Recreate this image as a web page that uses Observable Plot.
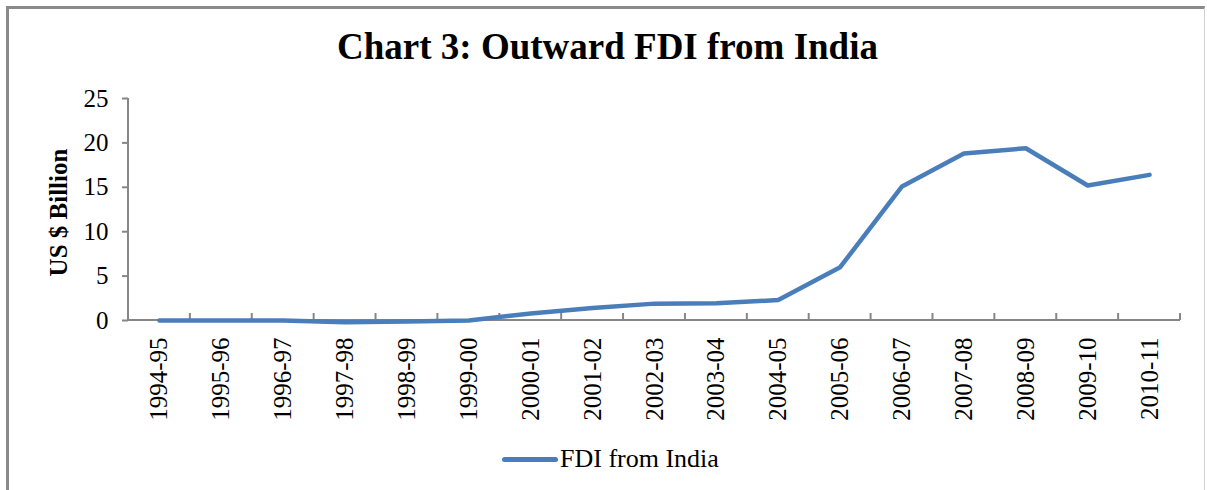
<!DOCTYPE html>
<html>
<head>
<meta charset="utf-8">
<script src="https://cdn.jsdelivr.net/npm/d3@7"></script>
<script src="https://cdn.jsdelivr.net/npm/@observablehq/plot@0.6"></script>
<style>
  body { margin: 0; background: #fff; }
  #wrap { position: relative; width: 1207px; height: 490px; overflow: hidden; background: #fff;
          font-family: "Liberation Serif", "Times New Roman", serif; color: #000; }
  #border { position: absolute; left: 6px; top: 6px; width: 1195px; height: 540px;
            border-left: 3px solid #8a8a8a; border-top: 3px solid #8a8a8a; border-right: 1px solid #d2d2d2; }
  #title { position: absolute; left: 0; top: 28px; width: 1215px; text-align: center;
           font-weight: bold; font-size: 37px; line-height: 37px; white-space: nowrap; }
  #chart { position: absolute; left: 0; top: 0; }
  #legend { position: absolute; left: 502px; top: 446px; display: flex; align-items: center;
            font-size: 26px; line-height: 26px; white-space: nowrap; }
  #legend .swatch { display: inline-block; width: 56px; height: 5px; border-radius: 2.5px; margin-right: 2px; }
</style>
</head>
<body>
<div id="wrap">
  <div id="border"></div>
  <div id="chart"></div>
  <div id="title"></div>
  <div id="legend"></div>
</div>
<script>
// ---- Data ----
const chartTitle = "Chart 3: Outward FDI from India";
const yAxisTitle = "US $ Billion";
const seriesName = "FDI from India";
const categories = ["1994-95", "1995-96", "1996-97", "1997-98", "1998-99", "1999-00", "2000-01", "2001-02",
  "2002-03", "2003-04", "2004-05", "2005-06", "2006-07", "2007-08", "2008-09", "2009-10", "2010-11"];
const fdiFromIndia = [0.0, 0.0, 0.0, -0.2, -0.1, 0.0, 0.8, 1.4, 1.9, 1.95, 2.3, 6.0, 15.1, 18.8, 19.4, 15.2, 16.4];
const yTickValues = [0, 5, 10, 15, 20, 25];

// ---- Styles ----
const axisGray = "#868686";
const lineBlue = "#4A7EBB";
const serif = '"Liberation Serif", "Times New Roman", serif';

const data = categories.map((c, i) => ({year: c, value: fdiFromIndia[i]}));

// Excel-style axis lines with category ticks between the categories
function categoryAxisLines(index, scales, values, dimensions) {
  const x = scales.x, y = scales.y;
  let x0, x1, step;
  if (x && x.range && x.step) {
    [x0, x1] = x.range();
    step = x.step();
  } else {
    x0 = dimensions.marginLeft;
    x1 = dimensions.width - dimensions.marginRight;
    step = (x1 - x0) / categories.length;
  }
  const y0 = y(0), yTop = y(d3.max(yTickValues));
  const g = d3.create("svg:g").attr("stroke", axisGray).attr("stroke-width", 2).attr("fill", "none");
  g.append("line").attr("x1", x0).attr("x2", x0).attr("y1", y0).attr("y2", yTop);
  g.append("line").attr("x1", x0).attr("x2", x1).attr("y1", y0).attr("y2", y0);
  for (let k = 0; k <= categories.length; k++) {
    const xx = x0 + k * step;
    g.append("line").attr("x1", xx).attr("x2", xx).attr("y1", y0).attr("y2", y0 - 7);
  }
  return g.node();
}

const chart = Plot.plot({
  width: 1207,
  height: 490,
  marginLeft: 128,
  marginRight: 27,
  marginTop: 98,
  marginBottom: 170,
  style: {fontFamily: serif, fontSize: "25px", background: "transparent", color: "#000"},
  x: {type: "band", domain: categories, padding: 0, round: false, label: null},
  y: {domain: [0, 25], label: null},
  marks: [
    Plot.axisY({ticks: yTickValues, tickSize: 6, tickPadding: 14, fontSize: 25,
      stroke: axisGray, strokeWidth: 2, fill: "#000", label: null}),
    Plot.axisX({tickSize: 0, tickRotate: -90, tickPadding: 17, fontSize: 25, fill: "#000", label: null}),
    Plot.text([yAxisTitle], {frameAnchor: "left", textAnchor: "middle", rotate: -90, dx: -70, dy: 3,
      fontWeight: "bold", fontSize: 25, fill: "#000"}),
    categoryAxisLines,
    Plot.lineY(data, {x: "year", y: "value", stroke: lineBlue, strokeWidth: 4.5,
      strokeLinejoin: "round", strokeLinecap: "round"})
  ]
});
document.getElementById("chart").appendChild(chart);

document.getElementById("title").textContent = chartTitle;
const legend = document.getElementById("legend");
const sw = document.createElement("span");
sw.className = "swatch";
sw.style.background = lineBlue;
legend.appendChild(sw);
const lt = document.createElement("span");
lt.textContent = seriesName;
legend.appendChild(lt);
</script>
</body>
</html>
